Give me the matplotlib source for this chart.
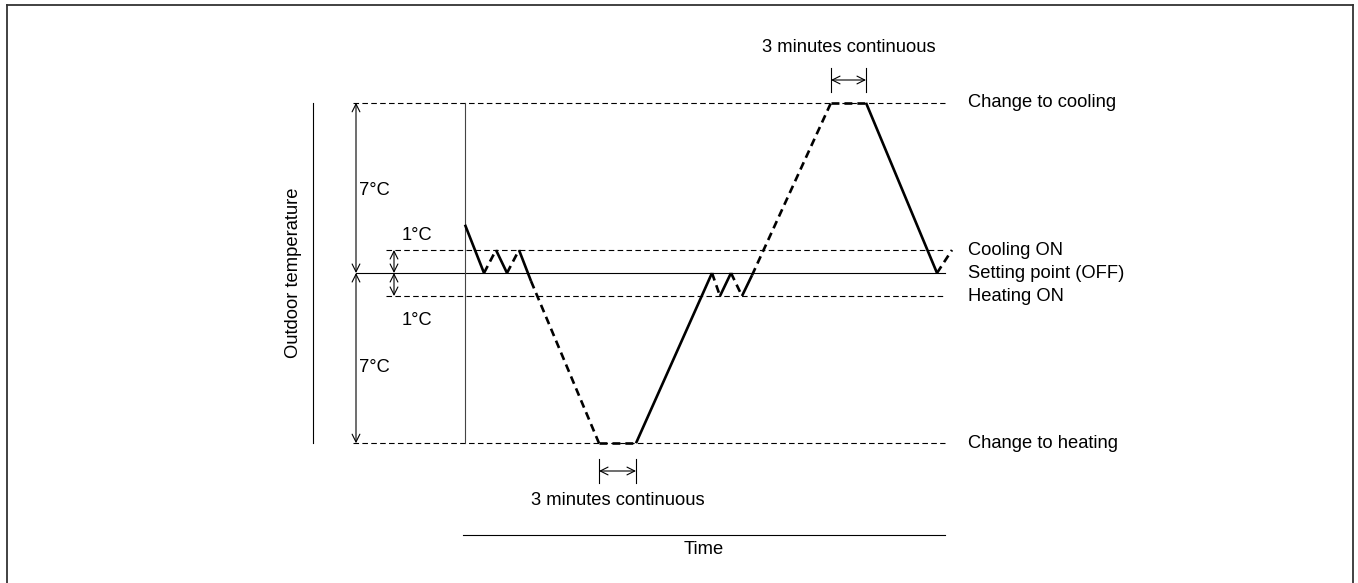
import matplotlib
matplotlib.use("Agg")
import matplotlib.pyplot as plt
from matplotlib.lines import Line2D

plt.rcParams['font.family'] = ['Liberation Sans', 'DejaVu Sans']

# ---- data (time in arbitrary units, temperature relative to setting point, degC) ----
levels_temp = [7.4, 1.0, 0.0, -1.0, -7.4]
level_labels = ["Change to cooling", "Cooling ON", "Setting point (OFF)", "Heating ON", "Change to heating"]

trace_time = [0, 19, 31, 42, 54, 66, 134, 171, 247, 255, 266, 277, 287, 366, 401, 472, 487]
trace_temp = [2.1, 0.0, 1.0, 0.0, 1.0, -0.35, -7.4, -7.4, 0.0, -1.0, 0.0, -1.0, -0.1, 7.4, 7.4, 0.0, 1.0]
# segment style: True = solid (running), False = dashed
segment_solid = [True, False, True, False, True, False, False, True, False, True, False, True,
                 False, False, True, False]

hold_heating = [134, 171]   # 3 minutes continuous (heating change)
hold_cooling = [366, 401]   # 3 minutes continuous (cooling change)

span_labels = ["7°C", "1°C", "1°C", "7°C"]

# ---- figure ----
W, H = 1358, 583
fig = plt.figure(figsize=(W / 100, H / 100), dpi=100)
ax = fig.add_axes([0, 0, 1, 1])
# pixel-linear mapping: t = xpix - 465 ; T = (273 - ypix)/23
ax.set_xlim(-465, W - 465)
ax.set_ylim((273 - H) / 23, 273 / 23)
ax.axis('off')

fs = 13.2
thin = 0.8
thick = 1.9
dash_thin = (0, (5, 3))
dash_thick = (0, (3.0, 1.9))
x_end = 480
ms = 14

# border
fig.add_artist(Line2D([7 / W, 7 / W], [0, 1 - 5 / H], transform=fig.transFigure, color='#333333', lw=1.3))
fig.add_artist(Line2D([7 / W, 1353 / W], [1 - 5 / H, 1 - 5 / H], transform=fig.transFigure, color='#333333', lw=1.3))
fig.add_artist(Line2D([1353 / W, 1353 / W], [0, 1 - 5 / H], transform=fig.transFigure, color='#333333', lw=1.3))

# horizontal reference lines
top, con, sp, hon, bot = levels_temp
ax.plot([-112, x_end], [top, top], color='black', lw=thin, ls=dash_thin)
ax.plot([-112, x_end], [bot, bot], color='black', lw=thin, ls=dash_thin)
ax.plot([-79, x_end], [con, con], color='black', lw=thin, ls=dash_thin)
ax.plot([-79, x_end], [hon, hon], color='black', lw=thin, ls=dash_thin)
ax.plot([-109, x_end], [sp, sp], color='black', lw=thin)

# right labels
for T, lab in zip(levels_temp, level_labels):
    ax.text(503, T, lab, fontsize=fs, va='center', ha='left')

# vertical axis line
ax.plot([0, 0], [bot, top], color='#444444', lw=thin)

# outdoor temperature line and label
ax.plot([-152, -152], [bot, top], color='black', lw=thin)
ax.text(-172, 0, "Outdoor temperature", rotation=90, fontsize=fs, ha='center', va='center')

# span arrows
aprops = dict(arrowstyle='<->', color='black', lw=thin, shrinkA=0, shrinkB=0,
              mutation_scale=ms)
ax.annotate('', xy=(-109, top), xytext=(-109, sp), arrowprops=aprops)
ax.annotate('', xy=(-109, bot), xytext=(-109, sp), arrowprops=aprops)
ax.annotate('', xy=(-71, con), xytext=(-71, sp), arrowprops=aprops)
ax.annotate('', xy=(-71, hon), xytext=(-71, sp), arrowprops=aprops)

ax.text(-106, 3.6, span_labels[0], fontsize=fs, ha='left', va='center')
ax.text(-63, 1.65, span_labels[1], fontsize=fs, ha='left', va='center')
ax.text(-63, -2.05, span_labels[2], fontsize=fs, ha='left', va='center')
ax.text(-106, -4.1, span_labels[3], fontsize=fs, ha='left', va='center')

# trace
for i, solid in enumerate(segment_solid):
    xs = trace_time[i:i + 2]
    ys = trace_temp[i:i + 2]
    ax.plot(xs, ys, color='black', lw=thick, ls='-' if solid else dash_thick,
            solid_capstyle='butt', dash_capstyle='butt')

# 3 minutes markers
def hold_marker(t0, t1, T_center, text_T):
    half = 12 / 23
    for t in (t0, t1):
        ax.plot([t, t], [T_center - half, T_center + half], color='black', lw=thin)
    ax.annotate('', xy=(t0, T_center), xytext=(t1, T_center),
                arrowprops=dict(arrowstyle='<->', color='black', lw=thin, shrinkA=0, shrinkB=0,
                                mutation_scale=ms))
    ax.text((t0 + t1) / 2, text_T, "3 minutes continuous", fontsize=fs, ha='center', va='center')

hold_marker(hold_heating[0], hold_heating[1], (273 - 471) / 23, (273 - 500) / 23)
hold_marker(hold_cooling[0], hold_cooling[1], (273 - 80) / 23, (273 - 47) / 23)

# time axis
T_time = (273 - 535) / 23
ax.plot([-2, x_end], [T_time, T_time], color='black', lw=thin)
ax.text(239, (273 - 549) / 23, "Time", fontsize=fs, ha='center', va='center')

fig.savefig("out.png", dpi=100)
